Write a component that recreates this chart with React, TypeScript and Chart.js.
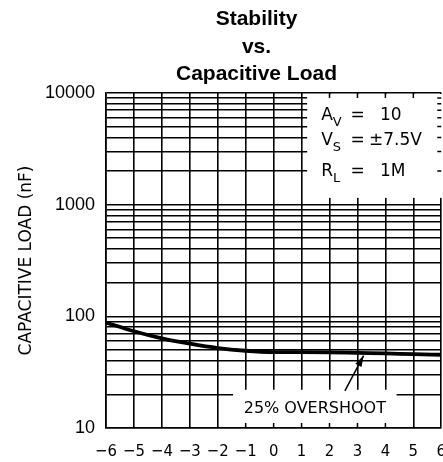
import React, { useEffect, useRef } from "react";
import { Chart, registerables } from "chart.js";

Chart.register(...registerables);

// ---- data ----
const outputSwing = [-6, -5, -4, -3, -2, -1, 0, 1, 2, 3, 4, 5, 6];
const capacitiveLoad = [88, 73.5, 63.5, 56.9, 52, 49.2, 47.9, 47.8, 47.6, 47, 46.5, 45.8, 45.3];
const yMajorTicks = [10, 100, 1000, 10000];
const yGridValues = [
  10, 20, 30, 40, 50, 60, 70, 80, 90,
  100, 200, 300, 400, 500, 600, 700, 800, 900,
  1000, 2000, 3000, 4000, 5000, 6000, 7000, 8000, 9000,
  10000,
];
const titleLines = ["Stability", "vs.", "Capacitive Load"];
const yAxisTitle = "CAPACITIVE LOAD (nF)";
const conditionRows = [
  { main: "A", sub: "V", value: "10" },
  { main: "V", sub: "S", value: "±7.5V" },
  { main: "R", sub: "L", value: "1M" },
];
const overshootLabel = "25% OVERSHOOT";

const PLOT_FONT = '"DejaVu Sans", sans-serif';

const overlayPlugin = {
  id: "overlay",
  beforeDatasetsDraw(chart: any) {
    const { ctx, chartArea: ca, scales } = chart;
    const x = scales.x;
    const y = scales.y;
    ctx.save();
    ctx.fillStyle = "#fff";
    // conditions box (top right)
    const b1l = x.getPixelForValue(1.2);
    const b1b = y.getPixelForValue(1150);
    ctx.fillRect(b1l, ca.top + 1, ca.right + 10 - b1l, b1b - ca.top - 1);
    // overshoot label box
    const b2l = x.getPixelForValue(-1.45);
    const b2r = x.getPixelForValue(4.4);
    const b2t = y.getPixelForValue(22);
    ctx.fillRect(b2l, b2t, b2r - b2l, ca.bottom - 1 - b2t);

    ctx.strokeStyle = "#000";
    ctx.lineWidth = 1.5;
    ctx.beginPath();
    outputSwing.forEach((v) => {
      const px = x.getPixelForValue(v);
      if (px > b1l && px < ca.right - 2) {
        ctx.moveTo(px, ca.top);
        ctx.lineTo(px, ca.top + 5);
      }
      if (px > b2l && px < b2r) {
        ctx.moveTo(px, ca.bottom);
        ctx.lineTo(px, ca.bottom - 5);
      }
    });
    yGridValues.forEach((v) => {
      const py = y.getPixelForValue(v);
      if (py > ca.top + 2 && py < b1b) {
        ctx.moveTo(ca.right, py);
        ctx.lineTo(ca.right - 4, py);
      }
    });
    ctx.stroke();
    ctx.restore();
  },
  afterDraw(chart: any) {
    const { ctx, chartArea: ca, scales } = chart;
    const x = scales.x;
    const y = scales.y;
    ctx.save();
    ctx.fillStyle = "#000";
    ctx.strokeStyle = "#000";

    // title
    ctx.font = 'bold 21px "Liberation Sans", Arial, sans-serif';
    ctx.textAlign = "center";
    ctx.textBaseline = "alphabetic";
    const titleX = 256.5;
    titleLines.forEach((t, i) => ctx.fillText(t, titleX, 25 + i * 27.5));

    // y axis title
    ctx.save();
    ctx.translate(27, (ca.top + ca.bottom) / 2);
    ctx.rotate(-Math.PI / 2);
    ctx.font = `17px ${PLOT_FONT}`;
    ctx.textAlign = "center";
    ctx.textBaseline = "middle";
    ctx.fillText(yAxisTitle, 0, 0);
    ctx.restore();

    // conditions
    const b1l = x.getPixelForValue(1.2);
    const rowBase = [27, 52, 83];
    ctx.textAlign = "left";
    ctx.textBaseline = "alphabetic";
    conditionRows.forEach((r, i) => {
      const by = ca.top + rowBase[i];
      const lx = b1l + 14;
      ctx.font = `17px ${PLOT_FONT}`;
      ctx.fillText(r.main, lx, by);
      const mw = ctx.measureText(r.main).width;
      ctx.font = `13px ${PLOT_FONT}`;
      ctx.fillText(r.sub, lx + mw, by + 6);
      ctx.font = `17px ${PLOT_FONT}`;
      ctx.textAlign = "center";
      ctx.fillText("=", 357.5, by);
      ctx.textAlign = "left";
      ctx.fillText(r.value, r.value.startsWith("±") ? 369 : 380, by);
    });

    // overshoot label
    const b2l = x.getPixelForValue(-1.45);
    const b2r = x.getPixelForValue(4.4);
    ctx.font = `16px ${PLOT_FONT}`;
    ctx.textAlign = "center";
    ctx.fillText(overshootLabel, (b2l + b2r) / 2, ca.bottom - 15);

    // arrow
    const tx = x.getPixelForValue(2.55);
    const ty = y.getPixelForValue(21.5);
    const hx = x.getPixelForValue(3.22);
    const hy = y.getPixelForValue(44.5);
    ctx.lineWidth = 1.5;
    ctx.beginPath();
    ctx.moveTo(tx, ty);
    ctx.lineTo(hx, hy);
    ctx.stroke();
    const ang = Math.atan2(hy - ty, hx - tx);
    const L = 11;
    const W = 3.5;
    ctx.beginPath();
    ctx.moveTo(hx, hy);
    ctx.lineTo(hx - L * Math.cos(ang) + W * Math.sin(ang), hy - L * Math.sin(ang) - W * Math.cos(ang));
    ctx.lineTo(hx - L * Math.cos(ang) - W * Math.sin(ang), hy - L * Math.sin(ang) + W * Math.cos(ang));
    ctx.closePath();
    ctx.fill();
    ctx.restore();
  },
};

export default function App() {
  const canvasRef = useRef<HTMLCanvasElement | null>(null);

  useEffect(() => {
    const canvas = canvasRef.current;
    if (!canvas) return;
    const gridStyle = { color: "#000", lineWidth: 1.6, drawTicks: false };
    const chart = new Chart(canvas, {
      type: "line",
      data: {
        datasets: [
          {
            data: outputSwing.map((v, i) => ({ x: v, y: capacitiveLoad[i] })),
            borderColor: "#000",
            borderWidth: 3.8,
            pointRadius: 0,
            cubicInterpolationMode: "monotone",
            fill: false,
          },
        ],
      },
      options: {
        animation: false,
        responsive: false,
        maintainAspectRatio: false,
        layout: { padding: { left: 0, right: 18.5, top: 93, bottom: 0 } },
        plugins: {
          legend: { display: false },
          title: { display: false },
          tooltip: { enabled: false },
        },
        scales: {
          x: {
            type: "linear",
            min: -6,
            max: 6,
            grid: gridStyle,
            border: { color: "#000", width: 1.6 },
            ticks: {
              stepSize: 1,
              padding: 14,
              color: "#000",
              font: { family: '"DejaVu Sans Condensed", "DejaVu Sans", sans-serif', size: 16.5 },
              callback: (v: any) => (v < 0 ? "\u2212" + Math.abs(v) : String(v)),
            },
            afterFit: (s: any) => {
              s.height = 34;
            },
          },
          y: {
            type: "logarithmic",
            min: 10,
            max: 10000,
            grid: gridStyle,
            border: { color: "#000", width: 1.6 },
            afterBuildTicks: (s: any) => {
              s.ticks = yGridValues.map((v) => ({ value: v }));
            },
            ticks: {
              padding: 11,
              color: "#000",
              autoSkip: false,
              font: { family: '"Liberation Sans", Arial, sans-serif', size: 18 },
              callback: (v: any) => (yMajorTicks.includes(Number(v)) ? String(v) : ""),
            },
            afterFit: (s: any) => {
              s.width = 106;
            },
          },
        },
      },
      plugins: [overlayPlugin],
    } as any);
    return () => chart.destroy();
  }, []);

  return (
    <div
      style={{
        position: "absolute",
        left: 0,
        top: 0,
        width: 443,
        height: 462,
        overflow: "hidden",
        background: "#fff",
      }}
    >
      <canvas ref={canvasRef} width={460} height={462} style={{ width: 460, height: 462, display: "block" }} />
    </div>
  );
}
